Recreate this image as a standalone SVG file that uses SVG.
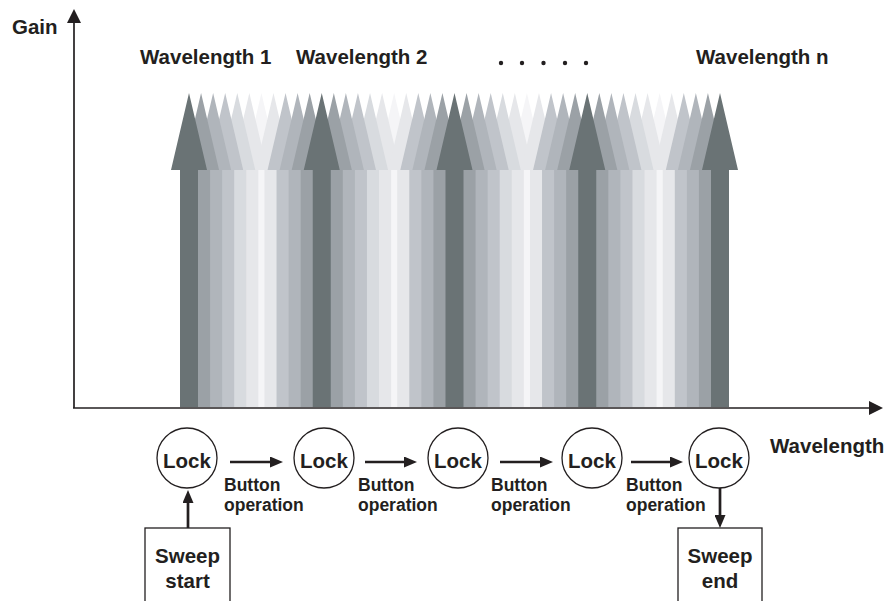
<svg xmlns="http://www.w3.org/2000/svg" xmlns:xlink="http://www.w3.org/1999/xlink" width="896" height="601" viewBox="0 0 896 601">
<style>
.t{font-family:"Liberation Sans",Arial,Helvetica,sans-serif;font-weight:bold;fill:#231f20}
.big{font-size:20.5px}
.sm{font-size:17.5px}
.mid{text-anchor:middle}
.ln{fill:none;stroke:#231f20}
.c0{fill:#6a7375}.c1{fill:#9ba1a6}.c2{fill:#b0b5bb}.c3{fill:#c0c4ca}.c4{fill:#d8dbdf}.c5{fill:#e6e7ea}.c6{fill:#f5f5f7}
.node{fill:#fff;stroke:#231f20;stroke-width:1.3}
</style>
<defs>
<path id="arr" d="M0,93 L18,170 L9,170 L9,407 L-9,407 L-9,170 L-18,170 Z"/>
<marker id="ah" markerUnits="userSpaceOnUse" markerWidth="13" markerHeight="11" viewBox="0 0 13 11" refX="0" refY="5.5" orient="auto"><path d="M0,0 L13,5.5 L0,11 Z" fill="#231f20"/></marker>
<marker id="ax" markerUnits="userSpaceOnUse" markerWidth="14" markerHeight="14" viewBox="0 0 14 14" refX="0" refY="7" orient="auto"><path d="M0,0 L14,7 L0,14 Z" fill="#231f20"/></marker>
</defs>
<g id="spectrum">
<use href="#arr" x="261.41" class="c6"/><use href="#arr" x="249.34" class="c5"/><use href="#arr" x="273.48" class="c5"/><use href="#arr" x="237.27" class="c4"/><use href="#arr" x="285.55" class="c3"/><use href="#arr" x="225.20" class="c3"/><use href="#arr" x="297.61" class="c2"/><use href="#arr" x="213.14" class="c2"/><use href="#arr" x="309.68" class="c1"/><use href="#arr" x="201.07" class="c1"/>
<use href="#arr" x="394.16" class="c6"/><use href="#arr" x="382.09" class="c5"/><use href="#arr" x="406.23" class="c5"/><use href="#arr" x="370.02" class="c4"/><use href="#arr" x="418.30" class="c3"/><use href="#arr" x="357.95" class="c3"/><use href="#arr" x="430.36" class="c2"/><use href="#arr" x="345.89" class="c2"/><use href="#arr" x="442.43" class="c1"/><use href="#arr" x="333.82" class="c1"/>
<use href="#arr" x="526.91" class="c6"/><use href="#arr" x="514.84" class="c5"/><use href="#arr" x="538.98" class="c5"/><use href="#arr" x="502.77" class="c4"/><use href="#arr" x="551.05" class="c3"/><use href="#arr" x="490.70" class="c3"/><use href="#arr" x="563.11" class="c2"/><use href="#arr" x="478.64" class="c2"/><use href="#arr" x="575.18" class="c1"/><use href="#arr" x="466.57" class="c1"/>
<use href="#arr" x="659.66" class="c6"/><use href="#arr" x="647.59" class="c5"/><use href="#arr" x="671.73" class="c5"/><use href="#arr" x="635.52" class="c4"/><use href="#arr" x="683.80" class="c3"/><use href="#arr" x="623.45" class="c3"/><use href="#arr" x="695.86" class="c2"/><use href="#arr" x="611.39" class="c2"/><use href="#arr" x="707.93" class="c1"/><use href="#arr" x="599.32" class="c1"/>
<use href="#arr" x="189" class="c0"/><use href="#arr" x="321.75" class="c0"/><use href="#arr" x="454.50" class="c0"/><use href="#arr" x="587.25" class="c0"/><use href="#arr" x="720" class="c0"/>
</g>
<g id="axes">
<path class="ln" stroke-width="1.7" d="M74,408 L74,23" marker-end="url(#ax)"/>
<path class="ln" stroke-width="1.7" d="M73,408 L869,408" marker-end="url(#ax)"/>
<text class="t big" x="12" y="34">Gain</text>
<text class="t big" x="770" y="453">Wavelength</text>
</g>
<g id="labels">
<text class="t big" x="140" y="64">Wavelength 1</text>
<text class="t big" x="296" y="64">Wavelength 2</text>
<text class="t big" x="696" y="64">Wavelength n</text>
<g fill="#231f20"><circle cx="501" cy="63" r="2.2"/><circle cx="522" cy="63" r="2.2"/><circle cx="543.5" cy="63" r="2.2"/><circle cx="565" cy="63" r="2.2"/><circle cx="586" cy="63" r="2.2"/></g>
</g>
<g id="connectors">
<path class="ln" stroke-width="2.7" d="M230,462 L270,462" marker-end="url(#ah)"/>
<path class="ln" stroke-width="2.7" d="M365,462 L404,462" marker-end="url(#ah)"/>
<path class="ln" stroke-width="2.7" d="M500,462 L540,462" marker-end="url(#ah)"/>
<path class="ln" stroke-width="2.7" d="M631,462 L670,462" marker-end="url(#ah)"/>
<path class="ln" stroke-width="2.7" d="M188,528 L188,503" marker-end="url(#ah)"/>
<path class="ln" stroke-width="2.7" d="M720,488 L720,515" marker-end="url(#ah)"/>
</g>
<g id="button-labels">
<text class="t sm" x="224" y="491">Button</text><text class="t sm" x="224" y="510.5">operation</text>
<text class="t sm" x="358" y="491">Button</text><text class="t sm" x="358" y="510.5">operation</text>
<text class="t sm" x="491" y="491">Button</text><text class="t sm" x="491" y="510.5">operation</text>
<text class="t sm" x="626" y="491">Button</text><text class="t sm" x="626" y="510.5">operation</text>
</g>
<g id="lock1"><circle class="node" cx="187" cy="458" r="30"/><text class="t big mid" x="187" y="468">Lock</text></g>
<g id="lock2"><circle class="node" cx="324" cy="458" r="30"/><text class="t big mid" x="324" y="468">Lock</text></g>
<g id="lock3"><circle class="node" cx="458" cy="458" r="30"/><text class="t big mid" x="458" y="468">Lock</text></g>
<g id="lock4"><circle class="node" cx="592" cy="458" r="30"/><text class="t big mid" x="592" y="468">Lock</text></g>
<g id="lock5"><circle class="node" cx="719" cy="458" r="30"/><text class="t big mid" x="719" y="468">Lock</text></g>
<g id="sweep-start"><rect class="node" x="145" y="528" width="85" height="90"/><text class="t big mid" x="187.5" y="562.5">Sweep</text><text class="t big mid" x="187.5" y="587.5">start</text></g>
<g id="sweep-end"><rect class="node" x="678" y="528" width="84" height="90"/><text class="t big mid" x="720" y="562.5">Sweep</text><text class="t big mid" x="720" y="587.5">end</text></g>
</svg>
